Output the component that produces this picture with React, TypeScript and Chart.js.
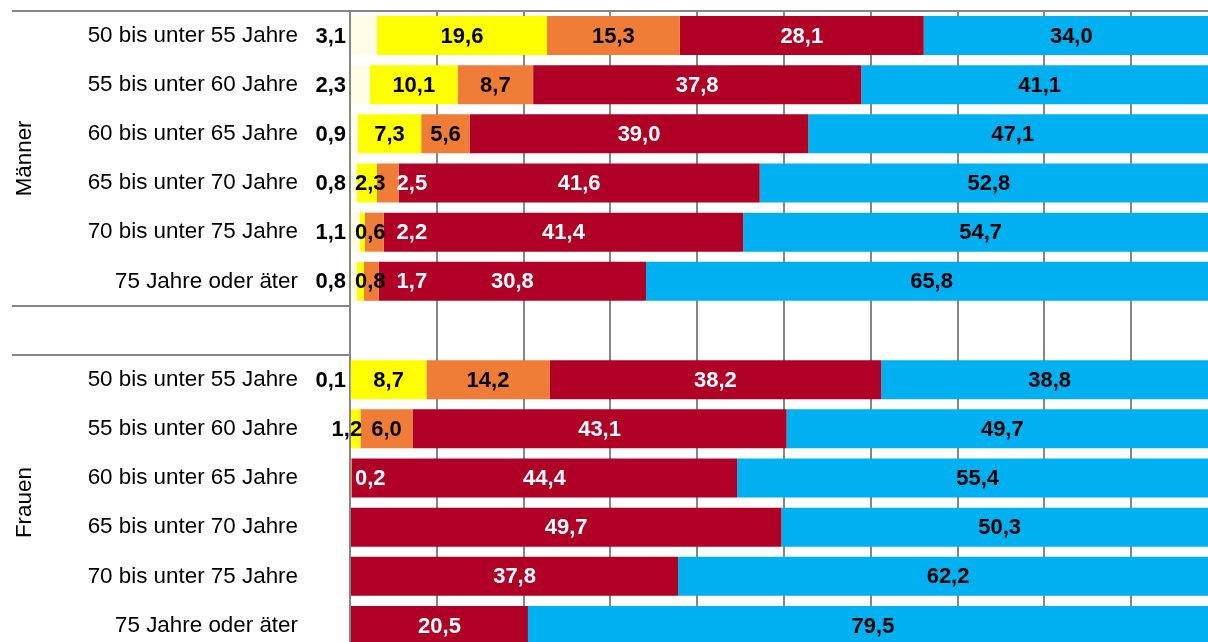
import { useEffect, useRef } from "react";
import { Chart, registerables } from "chart.js";

Chart.register(...registerables);

const categories = [
  "50 bis unter 55 Jahre",
  "55 bis unter 60 Jahre",
  "60 bis unter 65 Jahre",
  "65 bis unter 70 Jahre",
  "70 bis unter 75 Jahre",
  "75 Jahre oder äter",
  "",
  "50 bis unter 55 Jahre",
  "55 bis unter 60 Jahre",
  "60 bis unter 65 Jahre",
  "65 bis unter 70 Jahre",
  "70 bis unter 75 Jahre",
  "75 Jahre oder äter",
];

const groupNames = ["Männer", "Frauen"];
const groupRanges = [
  [0, 5],
  [7, 12],
];

const seriesCream = [3.1, 2.3, 0.9, 0.8, 1.1, 0.8, null, 0.1, 0, 0, 0, 0, 0];
const seriesYellow = [19.6, 10.1, 7.3, 2.3, 0.6, 0.8, null, 8.7, 1.2, 0, 0, 0, 0];
const seriesOrange = [15.3, 8.7, 5.6, 2.5, 2.2, 1.7, null, 14.2, 6.0, 0.2, 0, 0, 0];
const seriesCrimson = [28.1, 37.8, 39.0, 41.6, 41.4, 30.8, null, 38.2, 43.1, 44.4, 49.7, 37.8, 20.5];
const seriesBlue = [34.0, 41.1, 47.1, 52.8, 54.7, 65.8, null, 38.8, 49.7, 55.4, 50.3, 62.2, 79.5];

const xTicksMax = 100;
const xTickStep = 10;

const COLORS = ["#FFFDE6", "#FFFF00", "#EF7D38", "#B00026", "#00B0F0"];
const GRID = "#868686";
const FONT = "'Liberation Sans', Arial, sans-serif";

const fmt = (v: number) => v.toFixed(1).replace(".", ",");

const overlayPlugin = {
  id: "overlay",
  afterDatasetsDraw(chart: any) {
    const ctx = chart.ctx as CanvasRenderingContext2D;
    const area = chart.chartArea;
    const n = categories.length;
    const half = (area.bottom - area.top) / n / 2;
    const yScale = chart.scales.y;
    ctx.save();

    // top line
    ctx.strokeStyle = GRID;
    ctx.lineWidth = 2;
    ctx.beginPath();
    ctx.moveTo(12, area.top);
    ctx.lineTo(chart.width, area.top);
    ctx.stroke();

    // separators
    const sep1 = yScale.getPixelForValue(5) + half;
    const sep2 = yScale.getPixelForValue(7) - half;
    [sep1, sep2].forEach((yy) => {
      ctx.beginPath();
      ctx.moveTo(12, yy);
      ctx.lineTo(area.left, yy);
      ctx.stroke();
    });

    // group labels
    ctx.fillStyle = "#000";
    ctx.font = `22.4px ${FONT}`;
    ctx.textAlign = "center";
    ctx.textBaseline = "middle";
    groupNames.forEach((g, gi) => {
      const [a, b] = groupRanges[gi];
      const top = yScale.getPixelForValue(a) - half;
      const bot = yScale.getPixelForValue(b) + half;
      ctx.save();
      ctx.translate(23.5, (top + bot) / 2);
      ctx.rotate(-Math.PI / 2);
      ctx.fillText(g, 0, 1);
      ctx.restore();
    });

    // data labels
    ctx.font = `bold 22px ${FONT}`;
    ctx.textBaseline = "middle";
    const GAP = 11;
    const GAPL = 9;
    for (let i = 0; i < n; i++) {
      const el0 = chart.getDatasetMeta(0).data[i];
      if (!el0) continue;
      const y = el0.y + 1;
      const creamV = chart.data.datasets[0].data[i];
      if (creamV) {
        ctx.textAlign = "right";
        ctx.fillStyle = "#000";
        ctx.fillText(fmt(creamV), area.left - 4, y);
      }
      const allSegs: any[] = [];
      for (let d = 0; d < 5; d++) {
        const v = chart.data.datasets[d].data[i];
        if (!v) continue;
        const el = chart.getDatasetMeta(d).data[i];
        allSegs.push({ v, a: Math.min(el.base, el.x), b: Math.max(el.base, el.x), d });
      }
      const segs = allSegs.filter((s) => s.d > 0);
      const placed: any[] = [];
      let prevEnd = -Infinity;
      segs.forEach((s) => {
        const text = fmt(s.v);
        const w = ctx.measureText(text).width;
        const c = (s.a + s.b) / 2;
        const fits = s.b - s.a >= w + 6;
        let start: number;
        if (fits) start = c - w / 2;
        else start = Math.max(c - w / 2, prevEnd + GAP, area.left + 5);
        placed.push({ start, w, fits, text });
        prevEnd = start + w;
      });
      for (let k = placed.length - 2; k >= 0; k--) {
        const p = placed[k];
        const q = placed[k + 1];
        if (!p.fits && p.start + p.w + GAPL > q.start) p.start = q.start - GAPL - p.w;
      }
      placed.forEach((p) => {
        const cx = p.start + p.w / 2;
        let bg = -1;
        allSegs.forEach((s) => {
          if (cx >= s.a && cx < s.b) bg = s.d;
        });
        ctx.fillStyle = bg === 3 ? "#FFFFFF" : "#000000";
        ctx.textAlign = "center";
        ctx.fillText(p.text, cx, y);
      });
    }
    ctx.restore();
  },
};

export default function App() {
  const ref = useRef<HTMLCanvasElement | null>(null);
  useEffect(() => {
    if (!ref.current) return;
    const series = [seriesCream, seriesYellow, seriesOrange, seriesCrimson, seriesBlue];
    const chart = new Chart(ref.current, {
      type: "bar",
      data: {
        labels: categories,
        datasets: series.map((s, k) => ({
          label: `S${k + 1}`,
          data: s as any,
          backgroundColor: COLORS[k],
          borderWidth: 0,
          barPercentage: 0.793,
          categoryPercentage: 1,
        })),
      },
      options: {
        indexAxis: "y",
        responsive: false,
        animation: false,
        devicePixelRatio: 1,
        layout: { padding: { top: 10.9, bottom: 14.9, left: 0, right: 22 } },
        plugins: {
          legend: { display: false },
          tooltip: { enabled: false },
          title: { display: false },
        },
        scales: {
          x: {
            stacked: true,
            min: 0,
            max: xTicksMax,
            ticks: { display: false, stepSize: xTickStep },
            grid: { color: GRID, lineWidth: 2, drawTicks: false },
            border: { display: false },
            afterFit: (scale: any) => {
              scale.height = 0;
              scale.paddingLeft = 0;
              scale.paddingRight = 0;
            },
          },
          y: {
            stacked: true,
            ticks: {
              color: "#000",
              font: { family: FONT, size: 22.4 },
              padding: 52,
              autoSkip: false,
            },
            grid: { display: false, drawTicks: false },
            border: { display: true, color: GRID, width: 2 },
            afterFit: (scale: any) => {
              scale.width = 350;
              scale.paddingTop = 0;
              scale.paddingBottom = 0;
            },
          },
        },
      },
      plugins: [overlayPlugin],
    });
    return () => chart.destroy();
  }, []);
  return (
    <div
      style={{
        position: "fixed",
        left: 0,
        top: 0,
        width: 1208,
        height: 642,
        overflow: "hidden",
        background: "#fff",
      }}
    >
      <canvas ref={ref} width={1240} height={665} style={{ width: 1240, height: 665, display: "block" }} />
    </div>
  );
}
